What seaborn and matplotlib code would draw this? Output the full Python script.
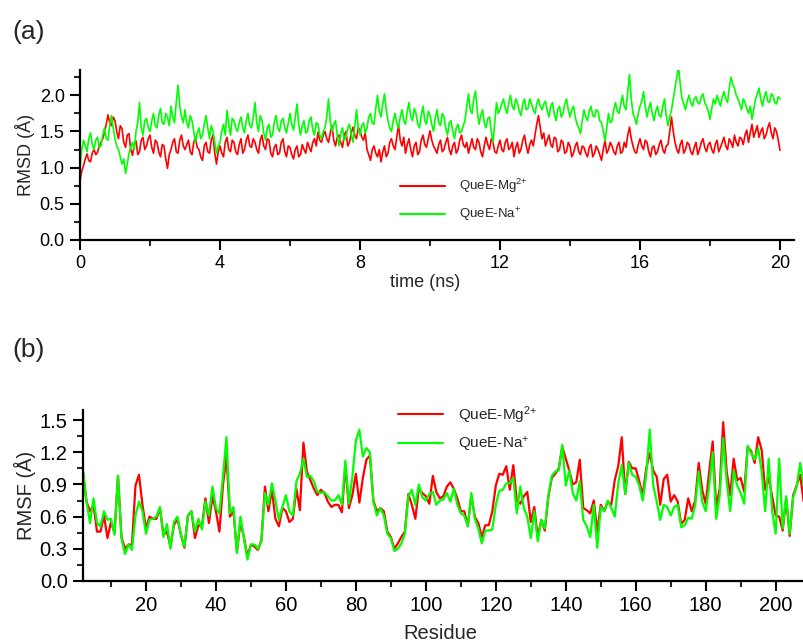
import numpy as np
import pandas as pd
import matplotlib
matplotlib.use("Agg")
import matplotlib.pyplot as plt
from matplotlib.lines import Line2D
from matplotlib.ticker import MultipleLocator, FormatStrFormatter
import seaborn as sns

# ---------------- data ----------------
series_names = ["QueE-Mg$^{2{+}}$", "QueE-Na$^{{+}}$"]
colors = ["#FF0000", "#00FF00"]

# (a) RMSD read at 0.0, 0.1, ... 20.0 ns  and at the half steps 0.05, 0.15, ... 19.95 ns
rmsd_mg_full = [
    0.82, 1.03, 1.19, 1.08, 1.26, 1.21, 1.35, 1.49, 1.73, 1.58,
    1.65, 1.40, 1.54, 1.28, 1.47, 1.17, 1.37, 1.22, 1.42, 1.30,
    1.45, 1.20, 1.35, 1.15, 1.30, 0.99, 1.25, 1.40, 1.20, 1.45,
    1.25, 1.38, 1.18, 1.42, 1.25, 1.10, 1.35, 1.20, 1.45, 1.05,
    1.30, 1.15, 1.42, 1.22, 1.35, 1.18, 1.40, 1.25, 1.45, 1.28,
    1.35, 1.20, 1.45, 1.25, 1.38, 1.15, 1.32, 1.20, 1.40, 1.15,
    1.28, 1.12, 1.30, 1.18, 1.25, 1.35, 1.22, 1.40, 1.49, 1.35,
    1.50, 1.35, 1.58, 1.30, 1.45, 1.28, 1.50, 1.35, 1.56, 1.40,
    1.52, 1.38, 1.25, 1.10, 1.30, 1.15, 1.08, 1.30, 1.20, 1.40,
    1.25, 1.59, 1.30, 1.20, 1.40, 1.15, 1.35, 1.22, 1.45, 1.28,
    1.51, 1.30, 1.20, 1.38, 1.25, 1.42, 1.18, 1.35, 1.25, 1.45,
    1.28, 1.20, 1.40, 1.25, 1.35, 1.15, 1.42, 1.25, 1.35, 1.20,
    1.38, 1.22, 1.40, 1.28, 1.15, 1.35, 1.25, 1.45, 1.20, 1.38,
    1.45, 1.72, 1.40, 1.30, 1.45, 1.28, 1.40, 1.25, 1.35, 1.22,
    1.30, 1.20, 1.35, 1.18, 1.28, 1.15, 1.32, 1.20, 1.25, 1.10,
    1.38, 1.25, 1.30, 1.18, 1.35, 1.22, 1.28, 1.56, 1.30, 1.20,
    1.40, 1.25, 1.35, 1.15, 1.30, 1.22, 1.38, 1.20, 1.32, 1.70,
    1.35, 1.20, 1.38, 1.25, 1.32, 1.18, 1.35, 1.25, 1.40, 1.22,
    1.35, 1.20, 1.38, 1.28, 1.42, 1.25, 1.35, 1.45, 1.30, 1.40,
    1.45, 1.35, 1.60, 1.50, 1.42, 1.55, 1.45, 1.62, 1.40, 1.50,
    1.24,
]
rmsd_mg_half = [
    0.95, 1.12, 1.10, 1.20, 1.18, 1.30, 1.40, 1.60, 1.62, 1.70,
    1.50, 1.58, 1.35, 1.45, 1.25, 1.32, 1.18, 1.38, 1.25, 1.40,
    1.28, 1.38, 1.22, 1.32, 1.12, 1.18, 1.35, 1.22, 1.38, 1.30,
    1.32, 1.22, 1.35, 1.28, 1.15, 1.30, 1.22, 1.38, 1.20, 1.22,
    1.20, 1.35, 1.25, 1.38, 1.22, 1.32, 1.20, 1.38, 1.30, 1.40,
    1.25, 1.38, 1.30, 1.40, 1.20, 1.28, 1.18, 1.35, 1.22, 1.30,
    1.18, 1.25, 1.15, 1.32, 1.20, 1.28, 1.35, 1.30, 1.38, 1.45,
    1.40, 1.48, 1.38, 1.42, 1.35, 1.45, 1.30, 1.48, 1.45, 1.55,
    1.42, 1.48, 1.18, 1.25, 1.20, 1.25, 1.22, 1.15, 1.35, 1.30,
    1.42, 1.38, 1.42, 1.32, 1.25, 1.30, 1.18, 1.38, 1.32, 1.40,
    1.38, 1.25, 1.32, 1.22, 1.35, 1.25, 1.30, 1.20, 1.38, 1.32,
    1.35, 1.30, 1.28, 1.40, 1.22, 1.30, 1.32, 1.40, 1.22, 1.30,
    1.25, 1.35, 1.25, 1.35, 1.28, 1.20, 1.38, 1.30, 1.32, 1.30,
    1.60, 1.55, 1.48, 1.38, 1.32, 1.42, 1.22, 1.38, 1.20, 1.35,
    1.15, 1.30, 1.22, 1.30, 1.20, 1.28, 1.15, 1.30, 1.18, 1.25,
    1.20, 1.35, 1.22, 1.30, 1.20, 1.35, 1.45, 1.40, 1.22, 1.32,
    1.30, 1.38, 1.22, 1.28, 1.18, 1.32, 1.25, 1.30, 1.50, 1.50,
    1.25, 1.32, 1.20, 1.35, 1.22, 1.28, 1.18, 1.35, 1.28, 1.32,
    1.25, 1.32, 1.22, 1.35, 1.30, 1.40, 1.28, 1.35, 1.42, 1.32,
    1.52, 1.48, 1.42, 1.58, 1.50, 1.40, 1.55, 1.48, 1.55, 1.38,
]
rmsd_na_full = [
    1.00, 1.38, 1.22, 1.48, 1.25, 1.42, 1.30, 1.55, 1.38, 1.72,
    1.40, 1.25, 1.05, 0.92, 1.20, 1.35, 1.50, 1.90, 1.45, 1.68,
    1.50, 1.75, 1.55, 1.82, 1.60, 1.70, 1.85, 1.62, 2.14, 1.70,
    1.80, 1.55, 1.65, 1.35, 1.55, 1.45, 1.72, 1.40, 1.50, 1.20,
    1.35, 1.60, 1.79, 1.45, 1.65, 1.50, 1.70, 1.48, 1.75, 1.55,
    1.90, 1.50, 1.65, 1.38, 1.60, 1.45, 1.72, 1.50, 1.68, 1.48,
    1.75, 1.52, 1.88, 1.45, 1.65, 1.50, 1.70, 1.45, 1.60, 1.40,
    1.55, 1.95, 1.50, 1.65, 1.30, 1.55, 1.42, 1.60, 1.35, 1.80,
    1.45, 1.62, 1.55, 1.75, 1.60, 2.00, 1.70, 2.02, 1.65, 1.50,
    1.75, 1.55, 1.80, 1.60, 1.90, 1.65, 1.75, 1.55, 1.85, 1.60,
    1.72, 1.50, 1.80, 1.58, 1.70, 1.45, 1.65, 1.40, 1.60, 1.50,
    1.65, 2.02, 1.75, 2.06, 1.60, 1.80, 1.55, 1.70, 1.35, 1.90,
    1.80, 1.95, 1.75, 2.00, 1.80, 1.90, 1.72, 1.95, 1.82, 1.88,
    1.75, 1.95, 1.80, 1.92, 1.70, 1.90, 1.65, 1.85, 1.75, 1.95,
    1.70, 1.85, 1.60, 1.47, 1.80, 1.65, 1.85, 1.70, 1.78, 1.62,
    1.37, 1.75, 1.65, 1.90, 1.75, 2.00, 1.80, 2.29, 1.75, 1.60,
    1.85, 2.05, 1.70, 1.90, 1.65, 1.85, 1.70, 1.95, 1.58, 1.80,
    2.10, 2.40, 1.95, 1.80, 2.00, 1.85, 1.98, 1.88, 2.02, 1.85,
    1.67, 1.95, 2.00, 1.85, 2.05, 1.90, 2.25, 2.10, 1.95, 1.80,
    1.90, 1.75, 1.67, 1.95, 2.10, 1.85, 2.05, 1.90, 2.00, 1.88,
    1.95,
]
rmsd_na_half = [
    1.25, 1.30, 1.40, 1.32, 1.38, 1.28, 1.45, 1.40, 1.60, 1.55,
    1.30, 1.15, 1.12, 1.05, 1.28, 1.25, 1.62, 1.55, 1.65, 1.55,
    1.65, 1.58, 1.72, 1.62, 1.75, 1.58, 1.70, 1.90, 1.85, 1.62,
    1.62, 1.72, 1.50, 1.48, 1.40, 1.60, 1.55, 1.58, 1.35, 1.30,
    1.50, 1.45, 1.60, 1.68, 1.55, 1.62, 1.55, 1.65, 1.58, 1.70,
    1.62, 1.72, 1.48, 1.55, 1.42, 1.62, 1.55, 1.65, 1.55, 1.62,
    1.60, 1.70, 1.60, 1.58, 1.48, 1.65, 1.52, 1.62, 1.45, 1.50,
    1.70, 1.65, 1.60, 1.45, 1.48, 1.38, 1.55, 1.45, 1.58, 1.55,
    1.58, 1.48, 1.70, 1.62, 1.82, 1.78, 1.88, 1.80, 1.55, 1.65,
    1.62, 1.70, 1.65, 1.78, 1.70, 1.82, 1.60, 1.72, 1.65, 1.78,
    1.60, 1.68, 1.62, 1.75, 1.55, 1.62, 1.50, 1.55, 1.48, 1.58,
    1.85, 1.80, 1.95, 1.78, 1.72, 1.62, 1.68, 1.50, 1.62, 1.75,
    1.88, 1.82, 1.90, 1.85, 1.95, 1.78, 1.88, 1.80, 1.95, 1.80,
    1.88, 1.85, 1.88, 1.78, 1.85, 1.75, 1.80, 1.70, 1.88, 1.80,
    1.80, 1.70, 1.55, 1.65, 1.70, 1.78, 1.72, 1.80, 1.65, 1.50,
    1.55, 1.62, 1.80, 1.78, 1.88, 1.85, 2.05, 1.95, 1.68, 1.75,
    1.92, 1.85, 1.82, 1.75, 1.78, 1.72, 1.85, 1.72, 1.70, 1.95,
    2.25, 2.15, 1.88, 1.92, 1.90, 1.95, 1.90, 1.98, 1.90, 1.78,
    1.82, 1.88, 1.92, 1.98, 1.95, 2.10, 2.15, 2.00, 1.88, 1.95,
    1.82, 1.85, 1.80, 2.02, 1.95, 1.98, 1.92, 2.02, 1.90, 1.98,
]

# (b) RMSF per residue 2..208
residues = np.arange(2, 209)
rmsf_mg = [
    1.02, 0.74, 0.65, 0.71, 0.46, 0.46, 0.61, 0.40, 0.55, 0.45,
    0.98, 0.41, 0.30, 0.34, 0.34, 0.89, 0.99, 0.71, 0.49, 0.60,
    0.58, 0.58, 0.68, 0.43, 0.46, 0.32, 0.52, 0.58, 0.43, 0.31,
    0.61, 0.65, 0.40, 0.52, 0.51, 0.77, 0.54, 0.79, 0.65, 0.46,
    0.89, 1.17, 0.60, 0.65, 0.27, 0.55, 0.41, 0.23, 0.34, 0.32,
    0.29, 0.38, 0.88, 0.65, 0.85, 0.58, 0.51, 0.68, 0.65, 0.55,
    0.58, 0.86, 0.66, 1.29, 1.02, 0.94, 0.86, 0.80, 0.85, 0.82,
    0.74, 0.69, 0.71, 0.71, 0.64, 1.08, 0.68, 0.80, 1.00, 0.73,
    0.96, 1.13, 1.17, 0.75, 0.65, 0.68, 0.65, 0.46, 0.41, 0.30,
    0.35, 0.41, 0.46, 0.81, 0.71, 0.58, 0.86, 0.82, 0.79, 0.72,
    0.98, 0.83, 0.77, 0.79, 0.88, 0.92, 0.86, 0.77, 0.65, 0.65,
    0.51, 0.80, 0.60, 0.54, 0.41, 0.52, 0.52, 0.65, 0.89, 1.00,
    0.99, 1.07, 0.85, 1.08, 0.75, 0.72, 0.79, 0.83, 0.55, 0.69,
    0.41, 0.57, 0.47, 0.78, 0.96, 1.00, 1.05, 1.25, 1.14, 1.03,
    0.90, 0.92, 1.13, 0.68, 0.66, 0.63, 0.75, 0.46, 0.71, 0.65,
    0.74, 0.71, 0.94, 1.07, 1.34, 0.81, 1.11, 1.05, 1.05, 0.93,
    0.80, 1.05, 1.19, 1.03, 0.97, 0.71, 0.95, 0.99, 0.74, 0.80,
    0.74, 0.53, 0.57, 0.77, 0.65, 0.75, 1.10, 0.85, 0.72, 1.02,
    1.30, 0.69, 0.86, 1.48, 1.02, 0.80, 1.14, 0.94, 0.96, 0.83,
    1.25, 1.21, 1.10, 1.34, 1.22, 0.85, 0.96, 0.79, 0.61, 0.60,
    0.47, 0.77, 0.42, 0.80, 0.89, 0.99, 0.74,
]
rmsf_na = [
    1.02, 0.74, 0.54, 0.77, 0.54, 0.51, 0.65, 0.57, 0.58, 0.43,
    0.98, 0.40, 0.25, 0.34, 0.29, 0.61, 0.74, 0.65, 0.44, 0.57,
    0.58, 0.60, 0.69, 0.41, 0.53, 0.30, 0.55, 0.60, 0.43, 0.32,
    0.61, 0.65, 0.46, 0.58, 0.48, 0.74, 0.61, 0.88, 0.68, 0.63,
    0.97, 1.34, 0.63, 0.69, 0.26, 0.60, 0.40, 0.20, 0.34, 0.34,
    0.30, 0.37, 0.82, 0.71, 0.91, 0.75, 0.57, 0.69, 0.80, 0.65,
    0.61, 0.93, 1.00, 1.14, 0.97, 0.98, 0.93, 0.83, 0.82, 0.83,
    0.79, 0.75, 0.75, 0.80, 0.71, 1.12, 0.72, 0.97, 1.31, 1.41,
    1.16, 1.24, 1.20, 0.74, 0.61, 0.68, 0.61, 0.44, 0.40, 0.28,
    0.30, 0.35, 0.44, 0.79, 0.85, 0.71, 0.90, 0.78, 0.75, 0.81,
    0.83, 0.71, 0.75, 0.76, 0.82, 0.74, 0.86, 0.71, 0.63, 0.61,
    0.51, 0.82, 0.58, 0.49, 0.35, 0.47, 0.47, 0.48, 0.71, 0.84,
    0.85, 0.91, 0.91, 0.96, 0.63, 0.88, 0.68, 0.60, 0.40, 0.65,
    0.37, 0.57, 0.49, 0.79, 0.98, 1.02, 1.03, 1.27, 0.89, 1.03,
    0.82, 0.75, 0.93, 0.57, 0.51, 0.41, 0.71, 0.31, 0.69, 0.65,
    0.75, 0.68, 0.60, 0.91, 1.08, 0.81, 1.10, 0.99, 0.97, 0.89,
    0.75, 0.99, 1.41, 0.89, 0.74, 0.57, 0.71, 0.69, 0.61, 0.69,
    0.71, 0.50, 0.52, 0.59, 0.58, 0.71, 1.02, 0.74, 0.65, 0.89,
    1.20, 0.58, 0.80, 1.33, 0.93, 0.65, 1.03, 0.89, 0.82, 0.72,
    1.26, 1.19, 1.13, 1.24, 1.02, 0.65, 1.14, 0.65, 0.44, 1.14,
    0.49, 0.79, 0.44, 0.78, 0.88, 1.10, 0.89,
]

# interleave the readings taken on the whole and half time steps
time_ns = np.round(np.arange(401) * 0.05, 2)
rmsd_mg = np.empty(401)
rmsd_mg[0::2] = rmsd_mg_full
rmsd_mg[1::2] = rmsd_mg_half
rmsd_na = np.empty(401)
rmsd_na[0::2] = rmsd_na_full
rmsd_na[1::2] = rmsd_na_half

# ---------------- style ----------------
sns.set_style("ticks")
plt.rcParams["font.family"] = ["Liberation Sans", "DejaVu Sans"]
plt.rcParams["mathtext.fontset"] = "custom"
plt.rcParams["mathtext.rm"] = "Liberation Sans"
plt.rcParams["mathtext.it"] = "Liberation Sans"
plt.rcParams["mathtext.default"] = "regular"

df_a = pd.DataFrame({
    "time": np.concatenate([time_ns, time_ns]),
    "RMSD": np.concatenate([rmsd_mg, rmsd_na]),
    "system": [series_names[0]] * len(time_ns) + [series_names[1]] * len(time_ns),
})
df_b = pd.DataFrame({
    "residue": np.concatenate([residues, residues]),
    "RMSF": np.concatenate([rmsf_mg, rmsf_na]),
    "system": [series_names[0]] * len(residues) + [series_names[1]] * len(residues),
})
palette = dict(zip(series_names, colors))

fig = plt.figure(figsize=(8.04, 6.43), dpi=100)
ax1 = fig.add_axes([80 / 804, 1 - 240 / 643, 714 / 804, 170 / 643])
ax2 = fig.add_axes([83 / 804, 1 - 581 / 643, 721 / 804, 170.6 / 643])

sns.lineplot(data=df_a, x="time", y="RMSD", hue="system", palette=palette,
             ax=ax1, linewidth=1.2, legend=False, estimator=None, sort=False)
sns.lineplot(data=df_b, x="residue", y="RMSF", hue="system", palette=palette,
             ax=ax2, linewidth=1.6, legend=False, estimator=None, sort=False)

def style_axis(ax, fs):
    for s in ["top", "right"]:
        ax.spines[s].set_visible(False)
    for s in ["left", "bottom"]:
        ax.spines[s].set_linewidth(1.6)
        ax.spines[s].set_color("black")
    ax.tick_params(which="major", direction="out", length=7, width=1.5,
                   labelsize=fs, colors="black", pad=4)
    ax.tick_params(which="minor", direction="out", length=4, width=1.5)
    ax.set_facecolor("white")

# panel (a)
ax1.set_xlim(0, 20.4)
ax1.set_ylim(0, 2.35)
ax1.xaxis.set_major_locator(MultipleLocator(4))
ax1.xaxis.set_minor_locator(MultipleLocator(2))
ax1.yaxis.set_major_locator(MultipleLocator(0.5))
ax1.yaxis.set_minor_locator(MultipleLocator(0.25))
ax1.yaxis.set_major_formatter(FormatStrFormatter("%.1f"))
style_axis(ax1, 13)
ax1.set_xlabel("time (ns)", fontsize=13, labelpad=0)
ax1.set_ylabel("RMSD (Å)", fontsize=13, labelpad=3)
ax1.xaxis.set_label_coords((425 - 80) / 714, -0.2)

# panel (b)
ax2.set_xlim(2, 208.1)
ax2.set_ylim(0, 1.59)
ax2.xaxis.set_major_locator(MultipleLocator(20))
ax2.xaxis.set_minor_locator(MultipleLocator(10))
ax2.yaxis.set_major_locator(MultipleLocator(0.3))
ax2.yaxis.set_minor_locator(MultipleLocator(0.15))
ax2.yaxis.set_major_formatter(FormatStrFormatter("%.1f"))
style_axis(ax2, 14.5)
ax2.set_xlabel("Residue", fontsize=14.5, labelpad=0)
ax2.set_ylabel("RMSF (Å)", fontsize=14.5, labelpad=3)
ax2.xaxis.set_label_coords((440 - 83) / 721, -0.25)

# legends
handles = [Line2D([], [], color=c, linewidth=1.5) for c in colors]
ax1.legend(handles, series_names, loc="upper left",
           bbox_to_anchor=(400 / 804, 1 - 177 / 643), bbox_transform=fig.transFigure,
           frameon=False, fontsize=9.5, handlelength=3.4, handletextpad=1.1,
           labelspacing=0.8, borderpad=0, borderaxespad=0)
ax2.legend(handles, series_names, loc="upper left",
           bbox_to_anchor=(398 / 804, 1 - 404 / 643), bbox_transform=fig.transFigure,
           frameon=False, fontsize=11, handlelength=2.95, handletextpad=1.0,
           labelspacing=0.6, borderpad=0, borderaxespad=0)

fig.text(12 / 804, 1 - 32 / 643, "(a)", fontsize=19, va="center", ha="left")
fig.text(12 / 804, 1 - 350 / 643, "(b)", fontsize=19, va="center", ha="left")

fig.savefig("out.png", dpi=100, facecolor="white")
